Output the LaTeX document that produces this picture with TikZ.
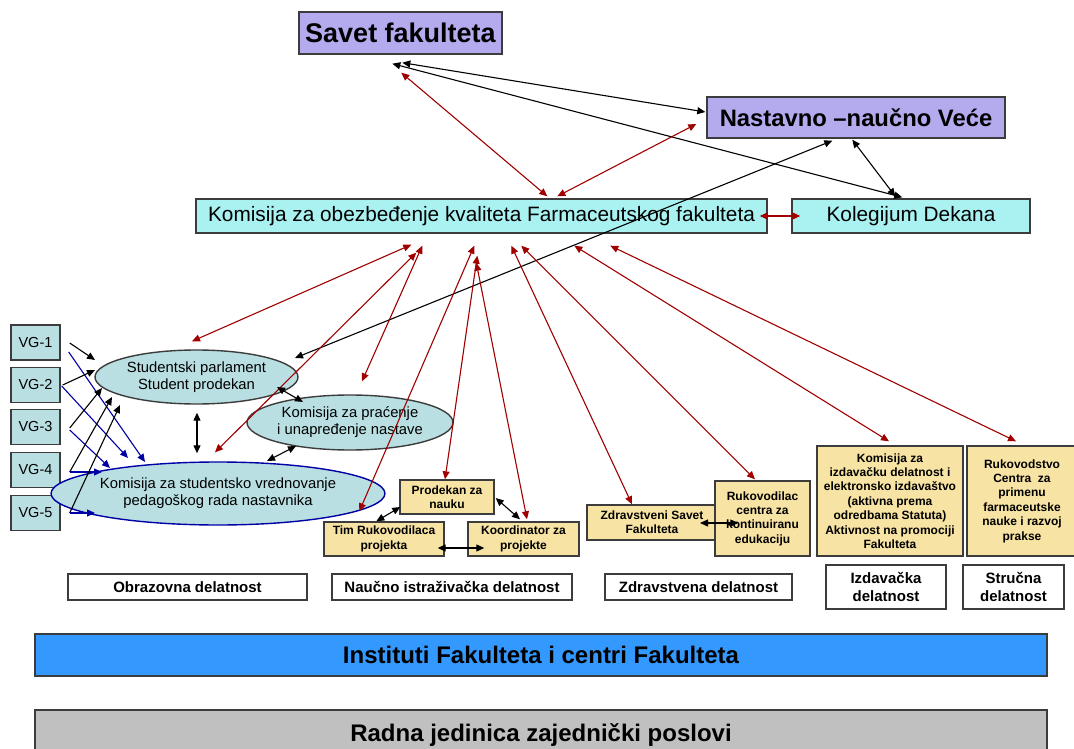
\documentclass[tikz,border=0pt]{standalone}
\usepackage{fontspec}
\setmainfont{Liberation Sans}
\usetikzlibrary{arrows.meta,shapes.geometric,calc}

\definecolor{lavanda}{RGB}{180,170,238}
\definecolor{tirkiz}{RGB}{170,241,241}
\definecolor{plavosiva}{RGB}{185,223,226}
\definecolor{zuta}{RGB}{247,227,163}
\definecolor{plava}{RGB}{51,153,255}
\definecolor{siva}{RGB}{192,192,192}
\definecolor{crvena}{RGB}{160,0,0}
\definecolor{tamnoplava}{RGB}{0,0,165}
\definecolor{ivica}{RGB}{60,60,60}

\begin{document}
\begin{tikzpicture}[x=1pt, y=-1pt,
  kutija/.style={draw=ivica, line width=1.4pt, inner sep=0pt, align=center},
  zkutija/.style={kutija, fill=zuta, font=\bfseries\fontsize{12}{14.4}\selectfont},
  oznaka/.style={kutija, fill=white, font=\bfseries\fontsize{15}{18}\selectfont},
  elipsa/.style={ellipse, draw=ivica, line width=1.4pt, fill=plavosiva, inner sep=0pt, align=center, font=\fontsize{14.8}{17}\selectfont},
  vrh/.style={Triangle[length=8pt,width=7pt]},
  crv/.style={{Triangle[length=8pt,width=7pt]}-{Triangle[length=8pt,width=7pt]}, crvena, line width=1.1pt},
  crn/.style={{Triangle[length=8pt,width=7pt]}-{Triangle[length=8pt,width=7pt]}, black, line width=1.1pt},
  crn1/.style={-{Triangle[length=8pt,width=7pt]}, black, line width=1.1pt},
  pl1/.style={-{Triangle[length=8pt,width=7pt]}, tamnoplava, line width=1.1pt}]
\useasboundingbox (0,0) rectangle (1074,749);
\fill[white] (0,0) rectangle (1074,749);

% uprava
\node[kutija, fill=lavanda, minimum width=203, minimum height=42, font=\bfseries\fontsize{27}{32}\selectfont] (savet) at (400.5,33) {Savet fakulteta};
\node[kutija, fill=lavanda, minimum width=298, minimum height=41, font=\bfseries\fontsize{23.8}{28}\selectfont] (vece) at (856,117.5) {Nastavno –naučno Veće};
\node[kutija, fill=tirkiz, minimum width=571, minimum height=34, font=\fontsize{20.8}{25}\selectfont] (komisija) at (481.5,216) {Komisija za obezbeđenje kvaliteta Farmaceutskog fakulteta};
\node[kutija, fill=tirkiz, minimum width=238, minimum height=34, font=\fontsize{20.8}{25}\selectfont] (kolegij) at (911,216) {Kolegijum Dekana};

% obrazovna delatnost
\node[kutija, fill=plavosiva, minimum width=49, minimum height=35, font=\fontsize{14.5}{17}\selectfont] (vg1) at (35.5,342.5) {VG-1};
\node[kutija, fill=plavosiva, minimum width=49, minimum height=35, font=\fontsize{14.5}{17}\selectfont] (vg2) at (35.5,385) {VG-2};
\node[kutija, fill=plavosiva, minimum width=49, minimum height=35, font=\fontsize{14.5}{17}\selectfont] (vg3) at (35.5,427) {VG-3};
\node[kutija, fill=plavosiva, minimum width=49, minimum height=35, font=\fontsize{14.5}{17}\selectfont] (vg4) at (35.5,470) {VG-4};
\node[kutija, fill=plavosiva, minimum width=49, minimum height=35, font=\fontsize{14.5}{17}\selectfont] (vg5) at (35.5,513) {VG-5};
\node[elipsa, minimum width=203, minimum height=54] (parlament) at (196.5,377) {Studentski parlament\\Student prodekan};
\node[elipsa, minimum width=188, minimum height=55] (pracenje) at (350,422.5) {Komisija za praćenje\\i unapređenje nastave};
\node[elipsa, draw=tamnoplava, minimum width=264, minimum height=63] (vrednov) at (218,493.5) {Komisija za studentsko vrednovanje\\pedagoškog rada nastavnika};

% naucna, zdravstvena, izdavacka, strucna
\node[zkutija, minimum width=94, minimum height=34] (prodekan) at (447,497) {Prodekan za\\nauku};
\node[zkutija, minimum width=120, minimum height=34] (timruk) at (384,539) {Tim Rukovodilaca\\projekta};
\node[zkutija, minimum width=111, minimum height=34] (koord) at (523.5,539) {Koordinator za\\projekte};
\node[zkutija, minimum width=130, minimum height=35] (zdrsavet) at (652,522.5) {Zdravstveni Savet\\Fakulteta};
\node[zkutija, minimum width=95, minimum height=75] (rukcentar) at (762.5,518.5) {Rukovodilac\\centra za\\kontinuiranu\\edukaciju};
\node[zkutija, minimum width=146, minimum height=110] (izdkom) at (890,501) {Komisija za\\izdavačku delatnost i\\elektronsko izdavaštvo\\(aktivna prema\\odredbama Statuta)\\Aktivnost na promociji\\Fakulteta};
\node[zkutija, minimum width=110, minimum height=110] (rukstr) at (1022,501) {Rukovodstvo\\Centra~~za\\primenu\\farmaceutske\\nauke i razvoj\\prakse};

% oznake delatnosti
\node[oznaka, minimum width=239, minimum height=26] (lobraz) at (187.5,587) {Obrazovna delatnost};
\node[oznaka, minimum width=240, minimum height=26] (lnauc) at (452,587) {Naučno istraživačka delatnost};
\node[oznaka, minimum width=187, minimum height=26] (lzdrav) at (698.5,587) {Zdravstvena delatnost};
\node[oznaka, minimum width=120, minimum height=44] (lizdav) at (886,587) {Izdavačka\\delatnost};
\node[oznaka, minimum width=101, minimum height=44] (lstruc) at (1013.5,587) {Stručna\\delatnost};

\node[kutija, fill=plava, minimum width=1012, minimum height=42, font=\bfseries\fontsize{24}{29}\selectfont] (instituti) at (541,655) {Instituti Fakulteta i centri Fakulteta};
\node[kutija, fill=siva, minimum width=1012, minimum height=50, font=\bfseries\fontsize{24}{29}\selectfont] (radna) at (541,735) {Radna jedinica zajednički poslovi};

% veze na vrhu
\draw[crn] ($(savet.south west)+(104,8)$) -- ($(vece.west)+(-1,-5.5)$);
\draw[crn] ($(savet.south west)+(94,9)$) -- ($(kolegij.north west)+(111,-1)$);
\draw[crv] ($(savet.south west)+(103,18)$) -- ($(komisija.north west)+(352,-2)$);
\draw[crv] ($(vece.west)+(-10,6.5)$) -- ($(komisija.north west)+(362,-2)$);
\draw[crn] ($(vece.south west)+(146,1)$) -- ($(kolegij.north west)+(104,-2)$);
\draw[crv] ($(komisija.east)+(-8,0)$) -- ($(kolegij.west)+(9,0)$);
\draw[crn] ($(vece.south west)+(126,2)$) -- ($(parlament.center)+(98.5,-19)$);

% komisija prema delatnostima
\draw[crv] ($(komisija.south west)+(216,11)$) -- ($(parlament.north)+(-4.5,-8)$);
\draw[crv] ($(komisija.south west)+(221,19)$) -- ($(vrednov.north)+(-3,-9)$);
\draw[crv] ($(komisija.south west)+(227,12)$) -- ($(pracenje.north)+(12,-13)$);
\draw[crv] ($(komisija.south west)+(279,12)$) -- ($(timruk.north west)+(36,-10)$);
\draw[crv] ($(komisija.south west)+(282,22)$) -- ($(prodekan.north)+(-2,0)$);
\draw[crv] ($(komisija.south west)+(281,29)$) -- ($(koord.north)+(3.5,-2)$);
\draw[crv] ($(komisija.south west)+(316,12)$) -- ($(zdrsavet.north)+(-20,0)$);
\draw[crv] ($(komisija.south west)+(326,12)$) -- ($(rukcentar.north)+(-7.5,-1)$);
\draw[crv] ($(komisija.south west)+(379,12)$) -- ($(izdkom.north)+(-1,-4)$);
\draw[crv] ($(komisija.south west)+(415,12)$) -- ($(rukstr.north)+(-6,-4)$);

% VG grupe
\draw[crn1] ($(vg1.east)+(9,0.5)$) -- ($(parlament.center)+(-101.5,-17)$);
\draw[pl1] ($(vg1.east)+(8,9.5)$) -- ($(vrednov.center)+(-73,-31.5)$);
\draw[crn1] ($(vg2.east)+(2,0)$) -- ($(parlament.center)+(-101.5,-7)$);
\draw[pl1] ($(vg2.east)+(1,1)$) -- ($(vrednov.center)+(-90,-35.5)$);
\draw[crn1] ($(vg3.east)+(9,1)$) -- ($(parlament.center)+(-94.5,11)$);
\draw[pl1] ($(vg3.east)+(9,3)$) -- ($(vrednov.center)+(-108,-25.5)$);
\draw[crn1] ($(vg4.east)+(9,2)$) -- ($(parlament.center)+(-84.5,20)$);
\draw[pl1] ($(vg4.east)+(9,2)$) -- ($(vrednov.center)+(-116,-21.5)$);
\draw[crn1] ($(vg5.east)+(9,0)$) -- ($(parlament.center)+(-76.5,28)$);
\draw[pl1] ($(vg5.east)+(9,0)$) -- ($(vrednov.center)+(-123,19.5)$);

% medjusobne veze
\draw[crn] ($(parlament.south)+(0.5,8)$) -- ($(vrednov.north)+(-21,-8)$);
\draw[crn] ($(parlament.center)+(80.5,10)$) -- ($(pracenje.center)+(-47,-20.5)$);
\draw[crn] ($(pracenje.center)+(-54,23.5)$) -- ($(vrednov.center)+(49,-32.5)$);
\draw[crn] ($(timruk.north west)+(53,0)$) -- ($(prodekan.west)+(1,10)$);
\draw[crn] ($(prodekan.east)+(1,1)$) -- ($(koord.north)+(-3.5,-2)$);
\draw[crn] ($(timruk.east)+(-7,9)$) -- ($(koord.west)+(17,9)$);
\draw[crn] ($(zdrsavet.center)+(48,0.5)$) -- ($(rukcentar.west)+(24,4.5)$);
\end{tikzpicture}
\end{document}
